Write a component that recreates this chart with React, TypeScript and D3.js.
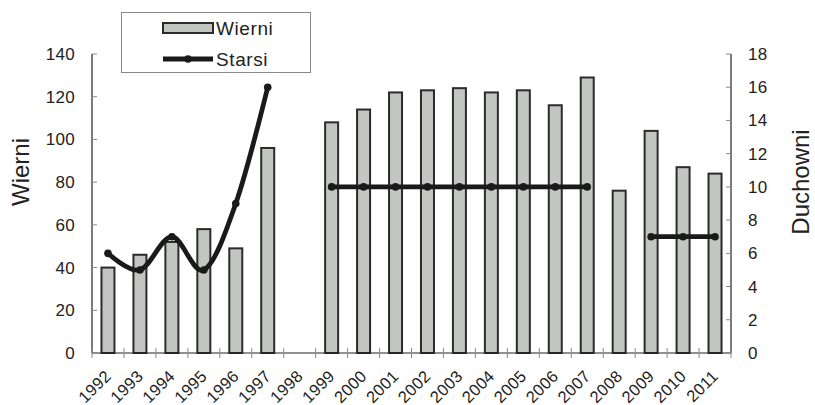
import React from "react";
import * as d3 from "d3";

const years = ["1992","1993","1994","1995","1996","1997","1998","1999","2000","2001","2002","2003","2004","2005","2006","2007","2008","2009","2010","2011"];
const wierni: (number | null)[] = [40,46,52,58,49,96,null,108,114,122,123,124,122,123,116,129,76,104,87,84];
const starsi: (number | null)[] = [6,5,7,5,9,16,null,10,10,10,10,10,10,10,10,10,null,7,7,7];
const leftTicks = [0,20,40,60,80,100,120,140];
const rightTicks = [0,2,4,6,8,10,12,14,16,18];

const W = 815, H = 405;
const x0 = 92, x1 = 731, yTop = 54, yBot = 353;
const font = "Arial, 'Liberation Sans', Helvetica, sans-serif";

export default function App() {
  const x = d3.scaleBand().domain(years).range([x0, x1]);
  const yL = d3.scaleLinear().domain([0, 140]).range([yBot, yTop]);
  const yR = d3.scaleLinear().domain([0, 18]).range([yBot, yTop]);
  const cx = (y: string) => (x(y) as number) + x.bandwidth() / 2;
  const bw = 13;

  const pts = years.map((y, i) => ({ y, v: starsi[i] }));
  const lineSmooth = d3.line<{ y: string; v: number | null }>()
    .defined(d => d.v !== null)
    .x(d => cx(d.y)).y(d => yR(d.v as number))
    .curve(d3.curveCatmullRom.alpha(0));
  const lineStraight = d3.line<{ y: string; v: number | null }>()
    .defined(d => d.v !== null)
    .x(d => cx(d.y)).y(d => yR(d.v as number));

  const seg1 = pts.slice(0, 6);
  const rest = pts.slice(6);

  return (
    <svg width={W} height={H} style={{ position: "absolute", left: 0, top: 0, background: "#fff" }} fontFamily={font}>
      <rect x={0} y={0} width={W} height={H} fill="#fff" />
      {/* bars */}
      {years.map((y, i) => wierni[i] === null ? null : (
        <rect key={y} x={cx(y) - bw / 2} y={yL(wierni[i] as number)} width={bw}
          height={yBot - yL(wierni[i] as number)} fill="#c3c5c3" stroke="#2b2b2b" strokeWidth={2} />
      ))}
      {/* axes */}
      <line x1={x0} x2={x0} y1={yTop} y2={yBot} stroke="#222" strokeWidth={1.2} />
      <line x1={x1} x2={x1} y1={yTop} y2={yBot} stroke="#222" strokeWidth={1.2} />
      <line x1={x0} x2={x1} y1={yBot} y2={yBot} stroke="#222" strokeWidth={1.2} />
      {leftTicks.map(t => (
        <g key={"l" + t}>
          <line x1={x0} x2={x0 + 5} y1={yL(t)} y2={yL(t)} stroke="#888" strokeWidth={1} />
          <text x={75} y={yL(t)} dy="0.35em" textAnchor="end" fontSize={17} letterSpacing={0.3} fill="#222">{t}</text>
        </g>
      ))}
      {rightTicks.map(t => (
        <g key={"r" + t}>
          <line x1={x1 - 5} x2={x1} y1={yR(t)} y2={yR(t)} stroke="#888" strokeWidth={1} />
          <text x={748} y={yR(t)} dy="0.35em" textAnchor="start" fontSize={17} letterSpacing={0.3} fill="#222">{t}</text>
        </g>
      ))}
      {years.map((y) => (
        <line key={"t" + y} x1={x(y) as number} x2={x(y) as number} y1={yBot - 5} y2={yBot + 5} stroke="#888" strokeWidth={1} />
      ))}
      <line x1={x1} x2={x1} y1={yBot - 5} y2={yBot + 5} stroke="#888" strokeWidth={1} />
      {years.map(y => (
        <text key={"xl" + y} transform={`translate(${cx(y) - 4},${369}) rotate(-45)`} textAnchor="end"
          dy="0.7em" fontSize={16.5} letterSpacing={0.3} fill="#222">{y}</text>
      ))}
      {/* line */}
      <path d={lineSmooth(seg1) || ""} fill="none" stroke="#1a1a1a" strokeWidth={4.8} strokeLinecap="round" />
      <path d={lineStraight(rest) || ""} fill="none" stroke="#1a1a1a" strokeWidth={4.8} strokeLinecap="round" />
      {pts.filter(d => d.v !== null).map(d => (
        <circle key={"c" + d.y} cx={cx(d.y)} cy={yR(d.v as number)} r={3.8} fill="#1a1a1a" />
      ))}
      {/* axis titles */}
      <text transform={`translate(29,172) rotate(-90)`} textAnchor="middle" fontSize={24} fill="#222">Wierni</text>
      <text transform={`translate(809,182) rotate(-90)`} textAnchor="middle" fontSize={24} fill="#222">Duchowni</text>
      {/* legend */}
      <rect x={121.5} y={12.5} width={189} height={60} fill="#fff" stroke="#888" strokeWidth={1} />
      <rect x={163} y={23} width={50} height={10} fill="#c3c5c3" stroke="#2b2b2b" strokeWidth={2} />
      <text x={216} y={28} dy="0.35em" fontSize={19} letterSpacing={0.6} fill="#222">Wierni</text>
      <line x1={163} x2={213} y1={59} y2={59} stroke="#1a1a1a" strokeWidth={4.8} />
      <circle cx={188} cy={59} r={3.8} fill="#1a1a1a" />
      <text x={216} y={59} dy="0.35em" fontSize={19} letterSpacing={0.6} fill="#222">Starsi</text>
    </svg>
  );
}
